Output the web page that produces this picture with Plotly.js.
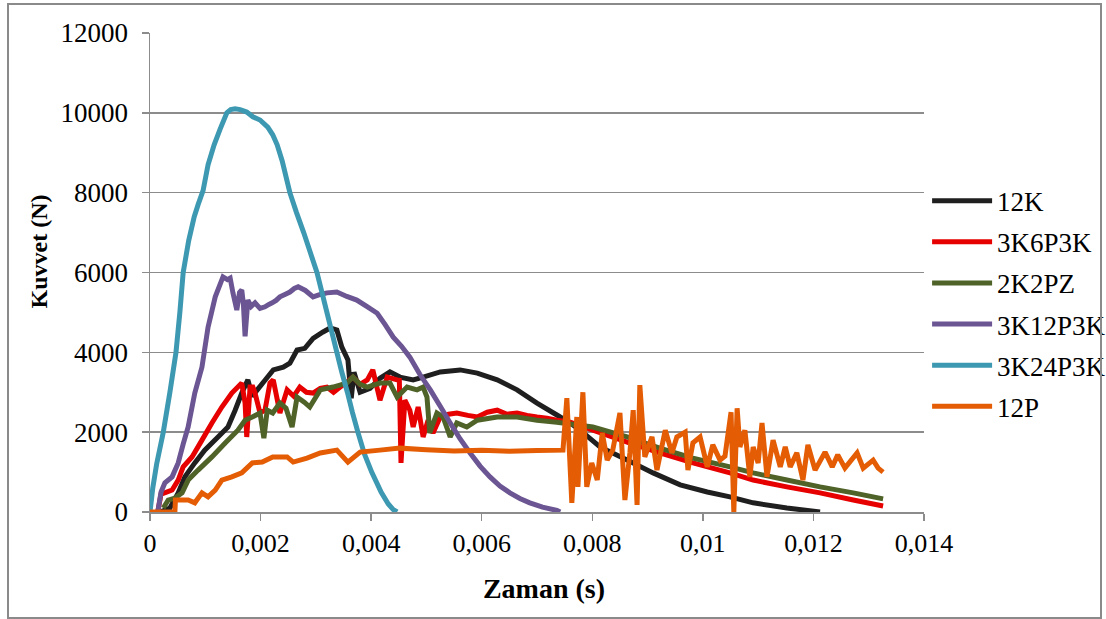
<!DOCTYPE html>
<html>
<head>
<meta charset="utf-8">
<script src="https://cdn.plot.ly/plotly-3.0.1.min.js"></script>
<style>
  html, body { margin: 0; padding: 0; background: #fff; }
  #wrap { position: relative; width: 1106px; height: 619px; }
  #chart { position: absolute; left: 0; top: 0; width: 1106px; height: 619px; }
  #frame { position: absolute; left: 7px; top: 3px; width: 1091px; height: 612px; border: 2px solid #8a8a8a; pointer-events: none; }
</style>
</head>
<body>
<div id="wrap"><div id="chart"></div><div id="frame"></div></div>
<script>
// Series names (legend order)
const seriesNames = ["12K", "3K6P3K", "2K2PZ", "3K12P3K", "3K24P3K", "12P"];
const seriesColors = ["#1f1f1f", "#e60000", "#4f6228", "#6b5592", "#3d98b1", "#e45c04"];

// 12K
const t12K = [0.00018,0.00036,0.00051,0.00063,0.00081,0.00099,0.00123,0.00141,0.00154,0.00166,
  0.00177,0.00185,0.00194,0.00208,0.00223,0.00241,0.00253,0.00266,0.00280,0.00295,
  0.00313,0.00326,0.00338,0.00347,0.00358,0.00364,0.00369,0.00380,0.00398,0.00416,
  0.00434,0.00452,0.00476,0.00494,0.00525,0.00561,0.00592,0.00628,0.00664,0.00700,
  0.00736,0.00760,0.00778,0.00814,0.00863,0.00910,0.00959,0.01008,0.01049,0.01091,
  0.01152,0.01212];
const f12K = [0,100,480,880,1230,1550,1880,2130,2550,2980,
  3310,2900,3060,3300,3560,3630,3730,4060,4100,4350,
  4510,4610,4560,4130,3810,2850,3500,3000,3100,3350,
  3510,3380,3310,3380,3510,3560,3480,3310,3060,2730,
  2430,2230,2050,1630,1300,980,680,500,380,230,
  100,0];

// 3K6P3K
const t3K6P3K = [0.00014,0.00020,0.00030,0.00040,0.00051,0.00060,0.00076,0.00094,0.00112,0.00130,
  0.00148,0.00166,0.00172,0.00175,0.00181,0.00186,0.00190,0.00199,0.00208,0.00217,
  0.00223,0.00235,0.00248,0.00260,0.00271,0.00283,0.00295,0.00308,0.00320,0.00332,
  0.00344,0.00356,0.00367,0.00380,0.00393,0.00403,0.00416,0.00429,0.00447,0.00451,
  0.00454,0.00461,0.00470,0.00476,0.00485,0.00494,0.00503,0.00512,0.00525,0.00540,
  0.00555,0.00575,0.00592,0.00610,0.00628,0.00646,0.00664,0.00682,0.00700,0.00718,
  0.00736,0.00760,0.00801,0.00863,0.00922,0.00982,0.01049,0.01091,0.01152,0.01212,
  0.01272,0.01326];
const f3K6P3K = [0,450,500,550,800,1130,1380,1800,2230,2630,
  2980,3230,2730,1880,3130,3130,2980,2480,2550,3230,
  3310,2480,3060,2900,3130,3000,2980,3100,3130,3000,
  3130,3250,3380,3200,3310,3560,2800,3380,3310,3300,
  1230,2800,2550,2130,2630,1880,2300,1980,2380,2450,
  2480,2420,2380,2500,2550,2450,2480,2420,2380,2350,
  2300,2250,2050,1750,1480,1230,980,800,630,480,
  300,150];

// 2K2PZ
const t2K2PZ = [0.00024,0.00033,0.00045,0.00058,0.00069,0.00087,0.00112,0.00136,0.00159,0.00172,
  0.00185,0.00199,0.00206,0.00212,0.00222,0.00235,0.00246,0.00257,0.00266,0.00279,
  0.00289,0.00308,0.00331,0.00356,0.00367,0.00380,0.00393,0.00416,0.00434,0.00447,
  0.00465,0.00483,0.00494,0.00501,0.00506,0.00519,0.00530,0.00543,0.00555,0.00573,
  0.00592,0.00628,0.00664,0.00700,0.00736,0.00801,0.00863,0.00922,0.00982,0.01049,
  0.01091,0.01152,0.01212,0.01272,0.01326];
const f2K2PZ = [100,300,350,480,800,1050,1380,1730,2050,2300,
  2380,2480,1850,2550,2480,2730,2600,2130,2880,2750,
  2630,3060,3130,3230,3380,3200,3130,3230,3230,2880,
  3130,3060,3130,2880,1980,2480,2380,1880,2230,2130,
  2300,2380,2380,2300,2250,2130,1880,1600,1350,1130,
  980,800,630,480,330];

// 3K12P3K
const t3K12P3K = [0.00014,0.00020,0.00027,0.00040,0.00051,0.00060,0.00069,0.00081,0.00094,0.00105,
  0.00118,0.00132,0.00140,0.00145,0.00150,0.00157,0.00162,0.00166,0.00169,0.00172,
  0.00177,0.00183,0.00190,0.00199,0.00208,0.00215,0.00221,0.00228,0.00235,0.00244,
  0.00253,0.00261,0.00268,0.00281,0.00295,0.00308,0.00320,0.00338,0.00356,0.00374,
  0.00392,0.00411,0.00425,0.00440,0.00455,0.00470,0.00488,0.00507,0.00525,0.00543,
  0.00561,0.00579,0.00597,0.00615,0.00633,0.00651,0.00669,0.00687,0.00710,0.00736,
  0.00742];
const f3K12P3K = [0,500,730,880,1230,1700,2130,2980,3630,4630,
  5390,5890,5820,5860,5490,5060,5500,5560,5200,4400,
  5310,5150,5240,5100,5140,5200,5240,5300,5390,5450,
  5510,5600,5640,5550,5390,5450,5490,5510,5400,5310,
  5150,4980,4700,4380,4150,3880,3450,3060,2650,2230,
  1830,1480,1150,880,650,480,340,230,120,40,
  0];

// 3K24P3K
const t3K24P3K = [0,0.00005,0.00012,0.00024,0.00036,0.00047,0.00054,0.00060,0.00070,0.00080,
  0.00087,0.00096,0.00105,0.00116,0.00127,0.00139,0.00146,0.00154,0.00163,0.00175,
  0.00186,0.00199,0.00213,0.00222,0.00230,0.00239,0.00246,0.00253,0.00265,0.00278,
  0.00290,0.00302,0.00311,0.00320,0.00329,0.00338,0.00347,0.00357,0.00366,0.00376,
  0.00388,0.00401,0.00418,0.00431,0.00440,0.00447];
const f3K24P3K = [0,600,1200,2000,3000,4000,5000,6000,6800,7400,
  7700,8050,8700,9200,9600,10000,10080,10100,10080,10020,
  9900,9820,9640,9450,9200,8800,8400,8000,7500,7000,
  6500,6000,5500,5000,4500,4000,3500,3000,2500,2000,
  1450,1000,500,200,60,0];

// 12P
const t12P = [0,0.00045,0.00046,0.00051,0.00069,0.00081,0.00094,0.00105,0.00118,0.00130,
  0.00148,0.00166,0.00185,0.00203,0.00222,0.00248,0.00259,0.00284,0.00308,0.00338,
  0.00358,0.00380,0.00416,0.00452,0.00500,0.00550,0.00600,0.00650,0.00700,0.00747,
  0.00754,0.00763,0.00772,0.00774,0.00783,0.00790,0.00799,0.00809,0.00818,0.00827,
  0.00837,0.00850,0.00859,0.00868,0.00874,0.00881,0.00886,0.00895,0.00908,0.00917,
  0.00932,0.00944,0.00953,0.00968,0.00973,0.00982,0.00995,0.01008,0.01018,0.01031,
  0.01040,0.01051,0.01056,0.01062,0.01067,0.01076,0.01085,0.01091,0.01100,0.01107,
  0.01116,0.01127,0.01140,0.01149,0.01158,0.01170,0.01181,0.01190,0.01203,0.01221,
  0.01234,0.01244,0.01257,0.01279,0.01290,0.01308,0.01317,0.01326];
const f12P = [0,0,300,300,300,230,480,380,550,800,
  880,980,1230,1250,1380,1380,1250,1350,1480,1550,
  1250,1500,1550,1600,1560,1530,1550,1520,1540,1550,
  2850,230,2380,630,3000,630,1230,800,1980,1300,
  1550,2480,300,1480,2550,180,3180,1380,1880,1050,
  2050,1480,1880,2000,1050,1730,1880,1130,1680,1300,
  1400,2500,0,2600,1630,2050,880,1630,1230,2230,
  880,1800,1130,1630,1130,1480,800,1680,1050,1500,
  1130,1430,1100,1480,1100,1300,1100,1000];

const xs = [t12K, t3K6P3K, t2K2PZ, t3K12P3K, t3K24P3K, t12P];
const ys = [f12K, f3K6P3K, f2K2PZ, f3K12P3K, f3K24P3K, f12P];

const xTicks = [0, 0.002, 0.004, 0.006, 0.008, 0.01, 0.012, 0.014];
const yTicks = [0, 2000, 4000, 6000, 8000, 10000, 12000];

const traces = seriesNames.map((n, i) => ({
  type: 'scatter', mode: 'lines', name: n, legendgroup: n,
  x: xs[i], y: ys[i],
  line: { color: seriesColors[i], width: 5, simplify: false }
}));

const serif = 'Liberation Serif, Times New Roman, serif';
const NB = '\u00a0';
const layout = {
  width: 1106, height: 619,
  margin: { l: 150, r: 182, t: 33, b: 107, autoexpand: false },
  paper_bgcolor: 'rgba(0,0,0,0)', plot_bgcolor: '#fff',
  separators: ', ',
  font: { family: serif, color: '#000' },
  showlegend: true,
  legend: {
    x: 1.004, xanchor: 'left', y: 0.70, yanchor: 'top',
    font: { family: serif, size: 27, color: '#000' },
    tracegroupgap: 3, itemwidth: 60, bgcolor: 'rgba(0,0,0,0)'
  },
  xaxis: {
    range: [0, 0.014], tickvals: xTicks, showgrid: false, zeroline: false,
    showline: true, linecolor: '#8c8c8c', linewidth: 1.5,
    ticks: 'outside', ticklen: 7, tickwidth: 1.5, tickcolor: '#8c8c8c',
    tickfont: { family: serif, size: 26, color: '#000' },
    ticklabelstandoff: 0,
    title: { text: '<b>' + NB + NB + 'Zaman (s)</b>', font: { family: serif, size: 28, color: '#000' }, standoff: 21 },
    automargin: false
  },
  yaxis: {
    range: [0, 12000], tickvals: yTicks, tickformat: 'd',
    showgrid: true, gridcolor: '#8c8c8c', gridwidth: 1.5, zeroline: false,
    showline: true, linecolor: '#8c8c8c', linewidth: 1.5,
    ticks: 'outside', ticklen: 7, tickwidth: 1.5, tickcolor: '#8c8c8c',
    tickfont: { family: serif, size: 27, color: '#000' },
    ticklabelstandoff: 8,
    title: { text: '<b>' + NB.repeat(7) + 'Kuvvet (N)</b>', font: { family: serif, size: 24, color: '#000' }, standoff: 6 },
    automargin: false
  }
};

Plotly.newPlot('chart', traces, layout, { displayModeBar: false, staticPlot: true });
</script>
</body>
</html>
